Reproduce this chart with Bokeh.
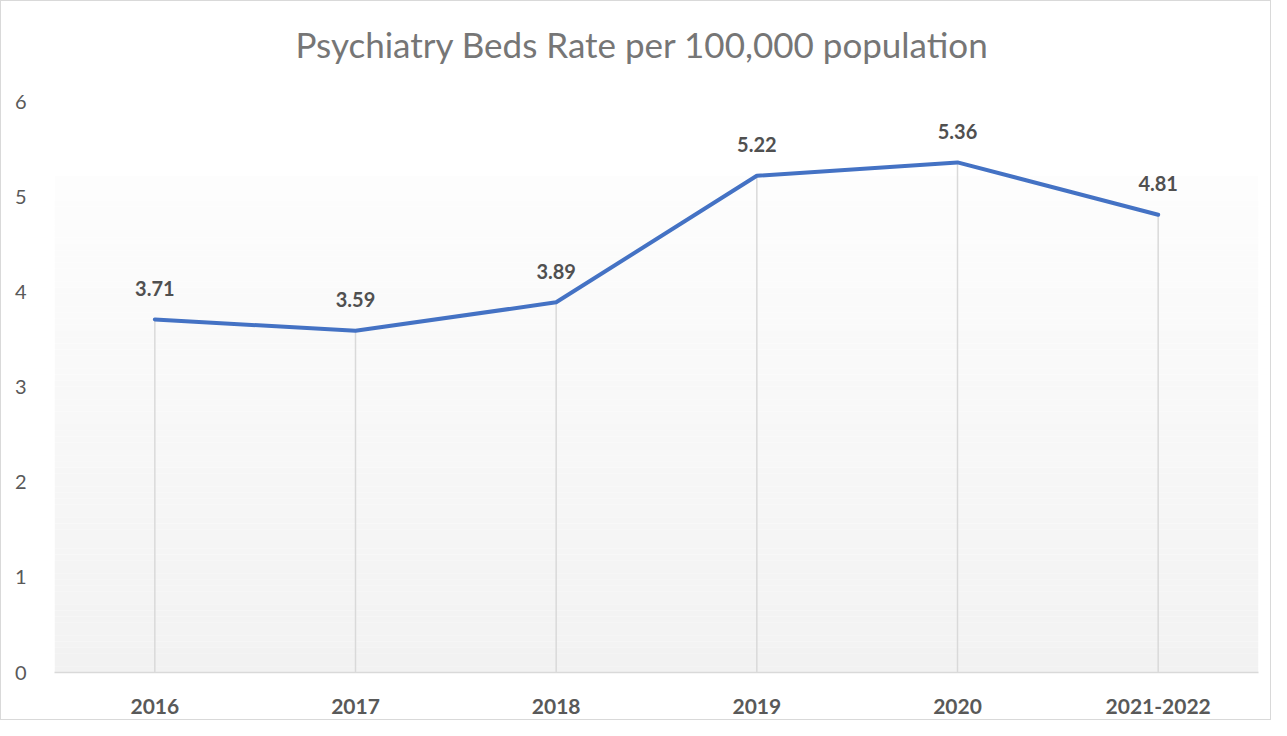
from bokeh.plotting import figure
from bokeh.models import FactorRange, Range1d, Title
from bokeh.core.properties import value
from bokeh.embed import file_html
from bokeh.resources import INLINE

# ---- data ----
categories = ["2016", "2017", "2018", "2019", "2020", "2021-2022"]
rates = [3.71, 3.59, 3.89, 5.22, 5.36, 4.81]
y_ticks = [0, 1, 2, 3, 4, 5, 6]
title_text = "Psychiatry Beds Rate per 100,000 population"

FONT = "Lato"

p = figure(
    width=1271, height=720,
    x_range=FactorRange(*categories, range_padding=0),
    y_range=Range1d(0, 6),
    output_backend="svg", toolbar_location=None,
    min_border_left=53, min_border_right=14,
    min_border_top=100, min_border_bottom=49,
)
p.styles = {"border": "1px solid #d9d9d9", "box-sizing": "border-box"}
p.outline_line_color = None
p.background_fill_color = "white"
p.border_fill_color = "white"
p.xgrid.grid_line_color = None
p.ygrid.grid_line_color = None

# ---- title (spacer first: nearest the plot) ----
p.add_layout(Title(text=" ", text_font_size="18px"), "above")
p.add_layout(Title(text=title_text, align="left", offset=241,
                   text_font=FONT, text_font_size="35px",
                   text_font_style="normal", text_color="#767676"), "above")

# ---- gradient background (white -> light grey) ----
n_strips = 80
grad_top = 5.22
tops, bottoms, cols = [], [], []
for i in range(n_strips):
    y0 = grad_top * i / n_strips
    y1 = grad_top * (i + 1) / n_strips
    t = (i + 0.5) / n_strips  # 0 bottom -> 1 top
    c0 = 0xF2
    c1 = 0xFD
    v = int(round(c0 + (c1 - c0) * t))
    tops.append(y1)
    bottoms.append(y0)
    cols.append("#%02x%02x%02x" % (v, v, v))
p.quad(left=[0] * n_strips, right=[len(categories)] * n_strips,
       bottom=bottoms, top=tops, fill_color=cols, line_color=None)

# ---- drop lines ----
p.segment(x0=categories, y0=[0] * len(categories), x1=categories, y1=rates,
          line_color="#d9d9d9", line_width=1.5)

# ---- series line ----
p.line(categories, rates, line_color="#4472C4", line_width=4,
       line_join="round", line_cap="round")

# ---- data labels ----
p.text(x=categories, y=rates, text=["%.2f" % r for r in rates],
       y_offset=-31, text_align="center", text_baseline="middle",
       text_font=value(FONT), text_font_style="bold",
       text_font_size="20px", text_color="#505050")

# ---- axes ----
xa = p.xaxis[0]
xa.axis_line_color = "#d9d9d9"
xa.axis_line_width = 1.5
xa.major_tick_line_color = None
xa.minor_tick_line_color = None
xa.major_label_standoff = 20
xa.major_label_text_font = FONT
xa.major_label_text_font_style = "bold"
xa.major_label_text_font_size = "21px"
xa.major_label_text_color = "#595959"

ya = p.yaxis[0]
ya.ticker = y_ticks
ya.axis_line_color = None
ya.major_tick_line_color = None
ya.minor_tick_line_color = None
ya.major_label_standoff = 22
ya.major_label_text_font = FONT
ya.major_label_text_font_size = "20px"
ya.major_label_text_color = "#595959"

open("out.html", "w").write(file_html(p, INLINE))
